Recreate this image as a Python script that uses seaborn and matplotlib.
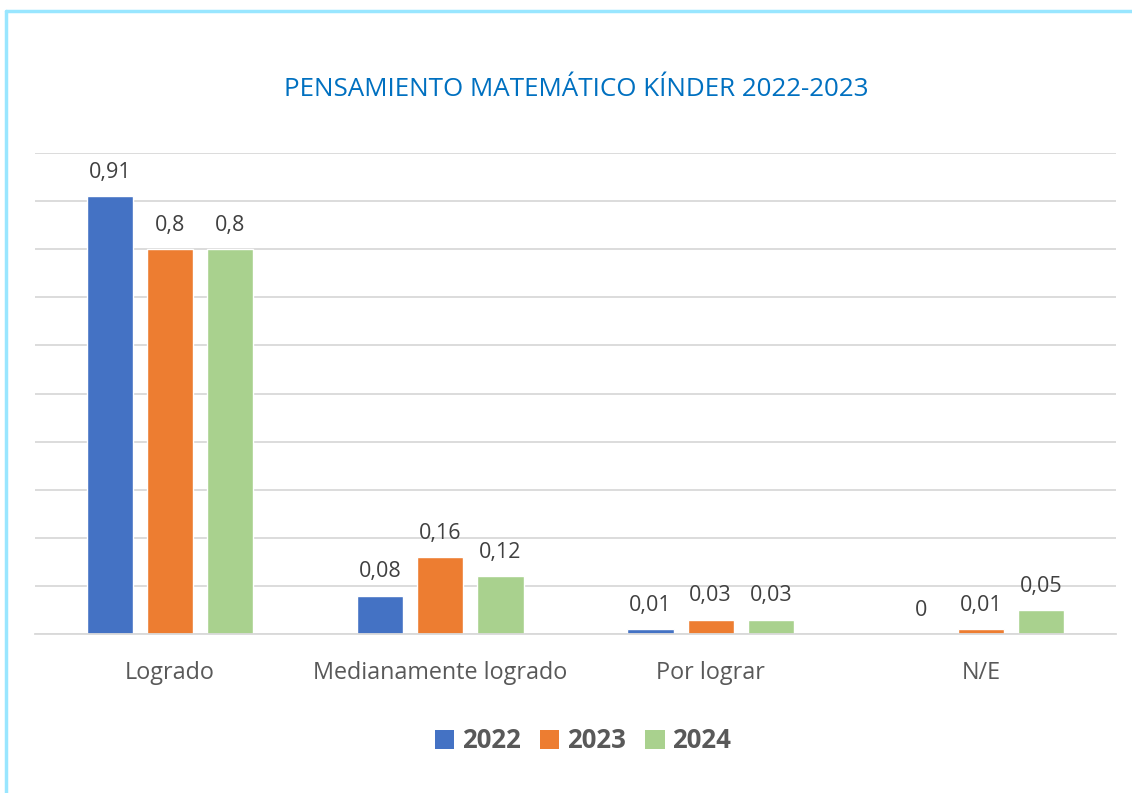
import matplotlib
matplotlib.use("Agg")
import matplotlib.pyplot as plt
from matplotlib.lines import Line2D
from matplotlib.patches import Patch
import seaborn as sns
import pandas as pd

# --- data ---
categories = ["Logrado", "Medianamente logrado", "Por lograr", "N/E"]
years = ["2022", "2023", "2024"]
values_2022 = [0.91, 0.08, 0.01, 0.0]
values_2023 = [0.80, 0.16, 0.03, 0.01]
values_2024 = [0.80, 0.12, 0.03, 0.05]
label_2022 = ["0,91", "0,08", "0,01", "0"]
label_2023 = ["0,8", "0,16", "0,03", "0,01"]
label_2024 = ["0,8", "0,12", "0,03", "0,05"]

colors = ["#4472C4", "#ED7D31", "#A9D18E"]
text_gray = "#595959"

df = pd.DataFrame({
    "categoria": categories * 3,
    "anio": [years[0]] * 4 + [years[1]] * 4 + [years[2]] * 4,
    "valor": values_2022 + values_2023 + values_2024,
})

sns.set_style("white")
plt.rcParams["font.family"] = ["Open Sans", "DejaVu Sans"]

fig = plt.figure(figsize=(11.32, 7.93), dpi=100)
ax = fig.add_axes([35 / 1132, 1 - 634 / 793, (1116 - 35) / 1132, (634 - 153) / 793])

sns.barplot(data=df, x="categoria", y="valor", hue="anio", order=categories,
            hue_order=years, palette=colors, width=0.667, gap=0.233,
            saturation=1, ax=ax, legend=False)

ax.set_ylim(0, 1.0)
ax.set_xlim(-0.5, 3.5)
ax.set_yticks([i / 10 for i in range(11)])
ax.set_yticklabels([])
ax.tick_params(axis="y", length=0)
ax.tick_params(axis="x", length=0, pad=19.5, labelsize=16.8, labelcolor=text_gray)
ax.yaxis.grid(True, color="#D9D9D9", linewidth=1.3)
ax.set_axisbelow(True)
for s in ["top", "right", "left"]:
    ax.spines[s].set_visible(False)
ax.spines["bottom"].set_color("#D9D9D9")
ax.spines["bottom"].set_linewidth(1.3)
ax.set_xlabel("")
ax.set_ylabel("")

all_labels = [label_2022, label_2023, label_2024]
for container, labels in zip(ax.containers, all_labels):
    ax.bar_label(container, labels=labels, padding=9.5, fontsize=15.5, color="#404040")

fig.text(576 / 1132, 1 - 89 / 793, "PENSAMIENTO MATEMÁTICO KÍNDER 2022-2023",
         ha="center", va="center", fontsize=18.7, color="#0070C0")

handles = [Patch(facecolor=c, edgecolor="none") for c in colors]
fig.legend(handles, years, loc="center", bbox_to_anchor=(583 / 1132, 1 - 741 / 793),
           ncol=3, frameon=False, handlelength=0.75, handleheight=0.75,
           handletextpad=0.3, columnspacing=0.76,
           prop={"size": 18.5, "weight": "bold"}, labelcolor=text_gray)

# light blue frame on left and top edges
frame_color = "#99E6FF"
fig.add_artist(Line2D([6 / 1132, 6 / 1132], [0, 1 - 11 / 793], color=frame_color,
                      linewidth=2.5, transform=fig.transFigure))
fig.add_artist(Line2D([6 / 1132, 1], [1 - 11 / 793, 1 - 11 / 793], color=frame_color,
                      linewidth=2.5, transform=fig.transFigure))

fig.savefig("out.png", dpi=100)
